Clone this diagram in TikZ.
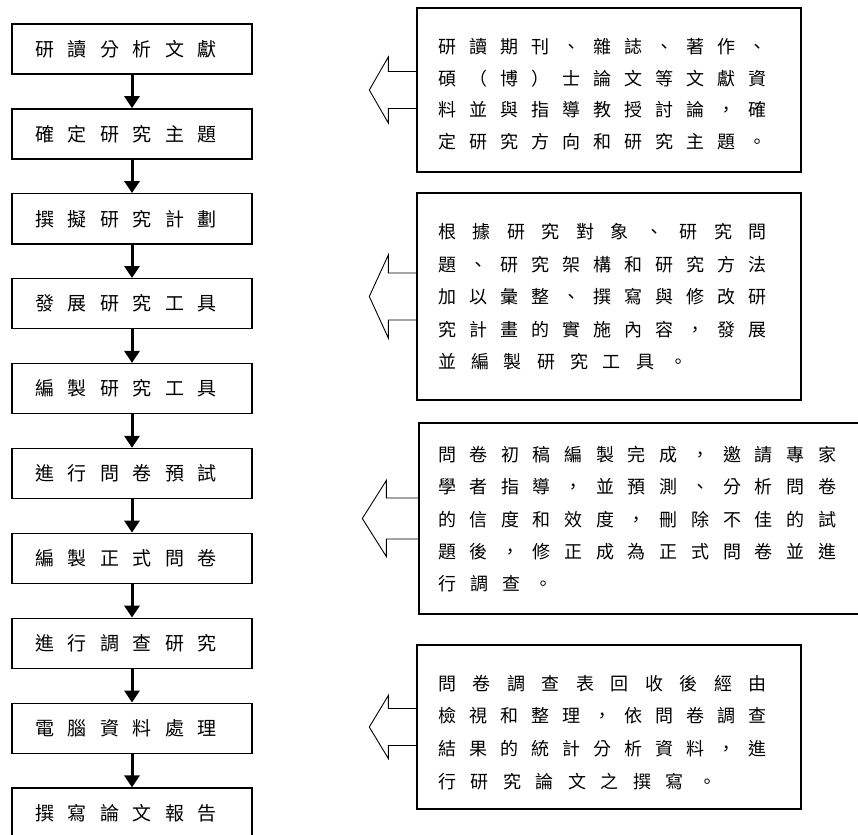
\documentclass[tikz,border=0pt]{standalone}
\usepackage{fontspec}
\newfontfamily\cjk{Noto Sans CJK TC}
\usetikzlibrary{arrows.meta}
\def\spreadchars#1#2\relax{#1\ifx\relax#2\relax\else\hfill\spreadchars#2\relax\fi}
\newcommand\sline[2]{\rule[-0.12em]{0pt}{1em}\makebox[#1][s]{\spreadchars#2\relax}}
\newcommand\lsline[1]{\sline{182pt}{#1}}
\newcommand\blockarrow[5]{\draw[barrow] (#1.west) ++(0,-#4) -- ++(-#2,0) -- ++(0,{-(#5-#4)}) -- ++(-#3,#5) -- ++(#3,#5) -- ++(0,{-(#5-#4)}) -- ++(#2,0);}
\begin{document}
\begin{tikzpicture}[x=1pt,y=-1pt,
  lbox/.style={draw, line width=1.4pt, minimum width=240pt, minimum height=50pt, inner sep=0pt, font=\cjk\fontsize{19}{19}\selectfont},
  flow/.style={line width=3pt, -{Triangle[width=15pt,length=12pt]}},
  rbox/.style={draw, line width=1.4pt, inner sep=0pt},
  rtext/.style={inner sep=0pt, align=left},
  barrow/.style={line width=0.9pt, line join=miter}]
\fill[white] (0,0) rectangle (858,834);
\useasboundingbox (0,0) rectangle (858,834);
% left flow boxes
\foreach \i/\t in {1/研讀分析文獻, 2/確定研究主題, 3/撰擬研究計劃, 4/發展研究工具, 5/編製研究工具, 6/進行問卷預試, 7/編製正式問卷, 8/進行調查研究, 9/電腦資料處理, 10/撰寫論文報告}
  \node[lbox] (s\i) at (132,{49+84.9*(\i-1)}) {\expandafter\lsline\expandafter{\t}\hspace*{12pt}};
\foreach \i in {1,...,9}{
  \pgfmathtruncatemacro\j{\i+1}
  \draw[flow] (s\i.south) -- (s\j.north);
}
% right description boxes
\node[rbox, minimum width=384pt, minimum height=164pt] (r1) at (609,90) {};
\node[rbox, minimum width=384pt, minimum height=207pt] (r2) at (609,296.5) {};
\node[rbox, minimum width=446pt, minimum height=191pt] (r3) at (642,518.5) {};
\node[rbox, minimum width=384pt, minimum height=164pt] (r4) at (609,727) {};
% texts
\node[rtext, font=\cjk\fontsize{18}{31.7}\selectfont] (t1) at (602.5,94.2) {%
\sline{329pt}{研讀期刊、雜誌、著作、}\\
\sline{329pt}{碩（博）士論文等文獻資}\\
\sline{329pt}{料並與指導教授討論，確}\\
\sline{329pt}{定研究方向和研究主題。}};
\node[rtext, font=\cjk\fontsize{18}{32.5}\selectfont, anchor=center] (t2) at (602.5,296.7) {%
\sline{329pt}{根據研究對象、研究問}\\
\sline{329pt}{題、研究架構和研究方法}\\
\sline{329pt}{加以彙整、撰寫與修改研}\\
\sline{329pt}{究計畫的實施內容，發展}\\
\sline{249pt}{並編製研究工具。}};
\node[rtext, font=\cjk\fontsize{18}{32.1}\selectfont] (t3) at (637,519.2) {%
\sline{398pt}{問卷初稿編製完成，邀請專家}\\
\sline{398pt}{學者指導，並預測、分析問卷}\\
\sline{398pt}{的信度和效度，刪除不佳的試}\\
\sline{398pt}{題後，修正成為正式問卷並進}\\
\sline{114.5pt}{行調查。}};
\node[rtext, font=\cjk\fontsize{18}{32.8}\selectfont] (t4) at (602.5,732.5) {%
\sline{329pt}{問卷調查表回收後經由}\\
\sline{329pt}{檢視和整理，依問卷調查}\\
\sline{329pt}{結果的統計分析資料，進}\\
\sline{278pt}{行研究論文之撰寫。}};
% hollow block arrows
\blockarrow{r1}{28}{19}{18.5}{33}
\blockarrow{r2}{28}{19}{23.5}{41.5}
\blockarrow{r3}{32}{24}{20.5}{38}
\blockarrow{r4}{28}{19}{18.5}{31.5}
\end{tikzpicture}
\end{document}
